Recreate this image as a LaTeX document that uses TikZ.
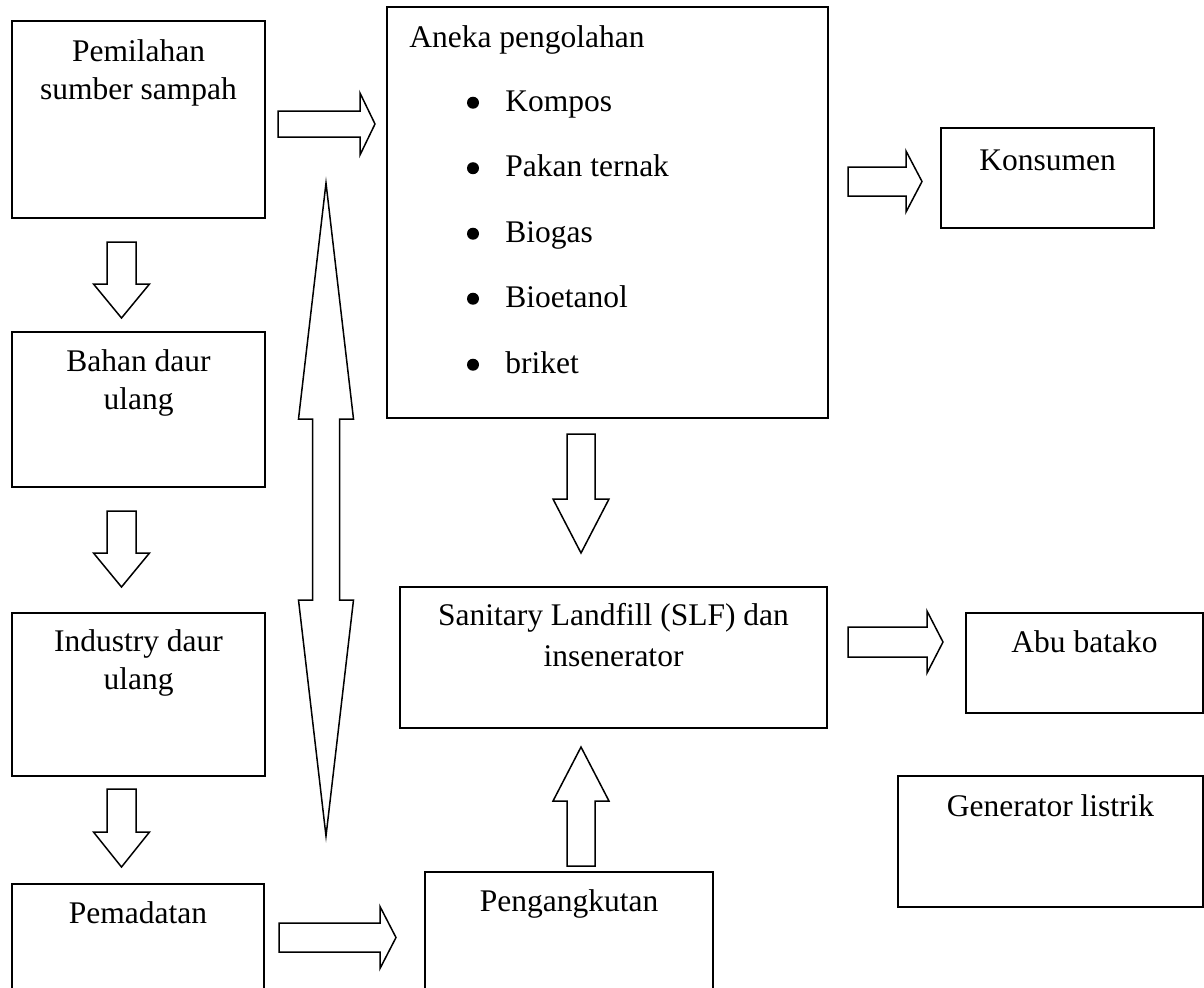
\documentclass[tikz,border=0pt]{standalone}
\usepackage{fontspec}
\setmainfont{Liberation Serif}
\usetikzlibrary{positioning}

\tikzset{
  box/.style={draw, line width=0.75pt, inner sep=0pt},
  txt/.style={inner sep=0pt, align=center, font=\fontsize{15.75pt}{19pt}\selectfont},
  dot/.style={circle, fill, inner sep=0pt, minimum size=6pt},
  arrline/.style={line width=0.75pt, fill=white},
  % #1 length, #2 start of head, #3 half shaft, #4 half head
  pics/blockarr/.style n args={4}{code={
    \draw[arrline] (0,-#3) -- (#2,-#3) -- (#2,-#4) -- (#1,0) -- (#2,#4) -- (#2,#3) -- (0,#3) -- cycle;
  }},
  pics/dblarr/.style n args={4}{code={
    \draw[arrline] (0,0) -- (#2,-#4) -- (#2,-#3) -- ({#1-#2},-#3) -- ({#1-#2},-#4) -- (#1,0)
      -- ({#1-#2},#4) -- ({#1-#2},#3) -- (#2,#3) -- (#2,#4) -- cycle;
  }}
}

\begin{document}
\begin{tikzpicture}[x=0.5pt, y=-0.5pt]
\path[use as bounding box, clip] (0,0) rectangle (1204,987);

% left column
\node[box, minimum width=126.5pt, minimum height=98.5pt] (pemilahan) at (138.5,119.5) {};
\node[txt, below=7.2pt of pemilahan.north] (pemilahan-t) {\strut Pemilahan\\sumber sampah};
\node[box, minimum width=126.5pt, minimum height=77.5pt] (bahan) at (138.5,409.5) {};
\node[txt, below=6.7pt of bahan.north] (bahan-t) {\strut Bahan daur\\ulang};
\node[box, minimum width=126.5pt, minimum height=81.5pt] (industri) at (138.5,694.5) {};
\node[txt, below=6.2pt of industri.north] (industri-t) {\strut Industry daur\\ulang};
\node[box, minimum width=126pt, minimum height=63pt] (pemadatan) at (138,947) {};
\node[txt, below=6.7pt of pemadatan.north] (pemadatan-t) {\strut Pemadatan};

\pic[rotate=-90] at (121.5,242) {blockarr={76}{42}{14.5}{28}};
\pic[rotate=-90] at (121.5,511) {blockarr={76}{42}{14.5}{28}};
\pic[rotate=-90] at (121.5,789) {blockarr={78}{43}{14.5}{28}};
\pic at (278,124) {blockarr={97}{82}{13}{31}};
\pic at (279,937.5) {blockarr={117}{101}{14.5}{31}};
\pic[rotate=-90] at (326,183) {dblarr={653}{236}{13.5}{27.5}};

% middle
\node[box, minimum width=220.5pt, minimum height=205.5pt] (aneka) at (607.5,212.5) {};
\node[txt, anchor=base west] (aneka-t) at (409,47) {Aneka pengolahan};
\node[dot] (b1) at (473,102.7) {};
\node[txt, anchor=base west] (kompos) at (505,111) {Kompos};
\node[dot] (b2) at (473,168.2) {};
\node[txt, anchor=base west] (pakan) at (505,176.5) {Pakan ternak};
\node[dot] (b3) at (473,233.7) {};
\node[txt, anchor=base west] (biogas) at (505,242) {Biogas};
\node[dot] (b4) at (473,298.7) {};
\node[txt, anchor=base west] (bioetanol) at (505,307) {Bioetanol};
\node[dot] (b5) at (473,364.7) {};
\node[txt, anchor=base west] (briket) at (505,373) {briket};

\node[box, minimum width=213.5pt, minimum height=70.5pt] (slf) at (613.5,657.5) {};
\node[txt, below=6.2pt of slf.north] (slf-t) {\strut Sanitary Landfill (SLF) dan\\[1.5pt]insenerator};
\node[box, minimum width=144pt, minimum height=69pt] (angkut) at (569,941) {};
\node[txt, below=6.7pt of angkut.north] (angkut-t) {\strut Pengangkutan};

\pic[rotate=-90] at (581,434) {blockarr={119}{65}{14}{28}};
\pic[rotate=90] at (581,866) {blockarr={119}{65}{14}{28}};

% right column
\node[box, minimum width=106.5pt, minimum height=50pt] (konsumen) at (1047.5,178) {};
\node[txt, below=8.2pt of konsumen.north] (konsumen-t) {\strut Konsumen};
\node[box, minimum width=118.5pt, minimum height=50pt] (abu) at (1084.5,663) {};
\node[txt, below=6.7pt of abu.north] (abu-t) {\strut Abu batako};
\node[box, minimum width=152.5pt, minimum height=65.5pt] (generator) at (1050.5,841.5) {};
\node[txt, below=7.2pt of generator.north] (generator-t) {\strut Generator listrik};

\pic at (848,181.5) {blockarr={74}{58}{14.5}{30.5}};
\pic at (848,642) {blockarr={95}{79}{15}{31}};
\end{tikzpicture}
\end{document}
